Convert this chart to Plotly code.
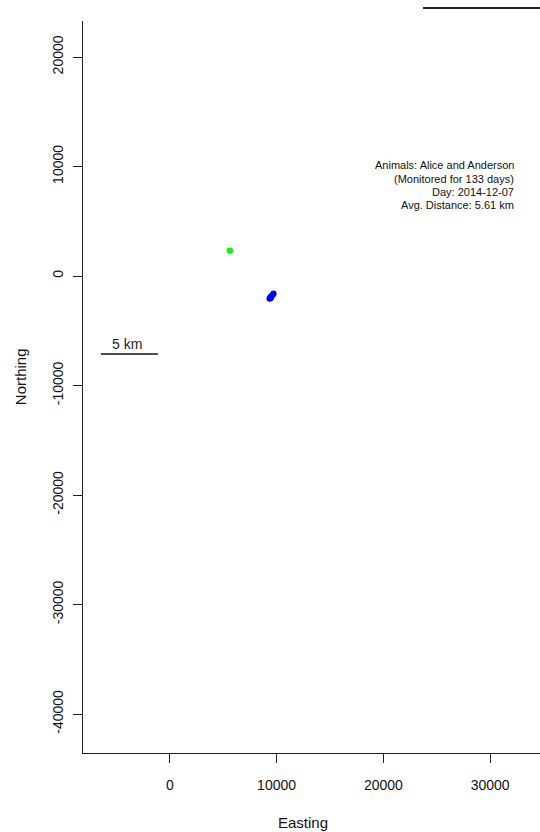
import plotly.graph_objects as go

# ---- data ----
green_x = [5600, 5650]
green_y = [2300, 2330]
blue_x = [9330, 9400, 9500, 9450, 9600, 9680, 9720, 9420]
blue_y = [-2080, -1990, -1950, -1860, -1760, -1660, -1600, -2050]

x_ticks = [0, 10000, 20000, 30000]
y_ticks = [20000, 10000, 0, -10000, -20000, -30000, -40000]

x_range = [-8130, 34670]
y_range = [-43560, 23290]

scalebar_label = "5 km"
scalebar_x = [-6450, -1120]
scalebar_y = [-7120, -7120]

info_lines = [
    "Animals: Alice and Anderson",
    "(Monitored for 133 days)",
    "Day: 2014-12-07",
    "Avg. Distance: 5.61 km",
]
info_x = 32450
info_y = [10100, 8900, 7700, 6520]

FONT = "Liberation Sans, Arial, sans-serif"

fig = go.Figure()
fig.add_trace(go.Scatter(x=green_x, y=green_y, mode="markers",
                         marker=dict(color="#00ff00", size=6), showlegend=False,
                         hoverinfo="skip"))
fig.add_trace(go.Scatter(x=blue_x, y=blue_y, mode="markers",
                         marker=dict(color="#0000ff", size=6), showlegend=False,
                         hoverinfo="skip"))
# scale bar
fig.add_trace(go.Scatter(x=scalebar_x, y=scalebar_y, mode="lines",
                         line=dict(color="#111111", width=1.3), showlegend=False,
                         hoverinfo="skip"))

annotations = []
annotations.append(dict(x=sum(scalebar_x) / 2 - 200, y=scalebar_y[0], xref="x", yref="y",
                        text=scalebar_label, showarrow=False, yanchor="bottom",
                        yshift=0, font=dict(family=FONT, size=14, color="#222222")))
for t, yy in zip(info_lines, info_y):
    annotations.append(dict(x=info_x, y=yy, xref="x", yref="y", text=t, showarrow=False,
                            xanchor="right", yanchor="middle",
                            font=dict(family=FONT, size=11, color="#111111")))
annotations.append(dict(x=(302 - 82) / 458, y=-(822 - 753) / 732, xref="paper", yref="paper",
                        text="Easting", showarrow=False, xanchor="center", yanchor="middle",
                        font=dict(family=FONT, size=15, color="#111111")))
annotations.append(dict(x=-(82 - 19) / 458, y=(753 - 377) / 732, xref="paper", yref="paper",
                        text="Northing", showarrow=False, xanchor="center", yanchor="middle",
                        textangle=-90,
                        font=dict(family=FONT, size=15, color="#111111")))

fig.update_layout(
    width=540, height=832,
    margin=dict(l=83, r=0, t=21, b=79, pad=0),
    paper_bgcolor="white", plot_bgcolor="white",
    font=dict(family=FONT, size=14, color="#111111"),
    annotations=annotations,
    shapes=[dict(type="line", xref="paper", yref="paper",
                 x0=(423 - 83) / 457, x1=1.0, y0=1 + 13 / 732, y1=1 + 13 / 732,
                 line=dict(color="#222222", width=2))],
)
fig.update_xaxes(range=x_range, tickvals=x_ticks, ticktext=[str(v) for v in x_ticks],
                 showgrid=False, zeroline=False, showline=True, linecolor="#222222",
                 linewidth=1.3, ticks="outside", ticklen=9, tickwidth=1.2,
                 tickcolor="#222222", ticklabelstandoff=10,
                 tickfont=dict(family=FONT, size=14, color="#111111"))
fig.update_yaxes(range=y_range, tickvals=y_ticks, ticktext=[str(v) for v in y_ticks],
                 showgrid=False, zeroline=False, showline=True, linecolor="#222222",
                 linewidth=1.3, ticks="outside", ticklen=9, tickwidth=1.2,
                 tickcolor="#222222", tickangle=-90, ticklabelstandoff=4,
                 tickfont=dict(family=FONT, size=14, color="#111111"))

fig.write_html("out.html", config={"displayModeBar": False},
               post_script="document.body.style.margin='0';document.body.style.overflow='hidden';")
